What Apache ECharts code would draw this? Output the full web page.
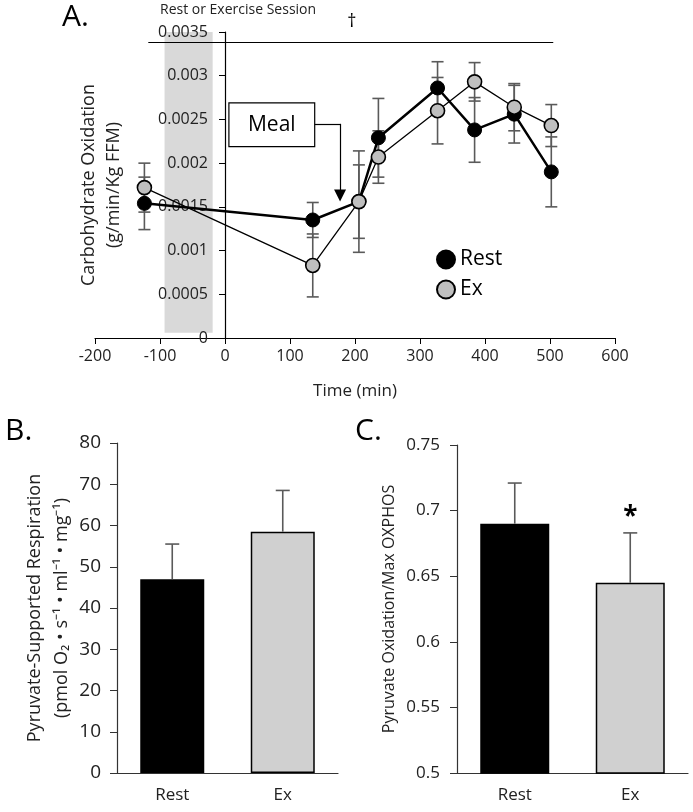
<!DOCTYPE html>
<html>
<head>
<meta charset="utf-8">
<script src="https://cdn.jsdelivr.net/npm/echarts@6/dist/echarts.min.js"></script>
<style>
  html, body { margin: 0; padding: 0; background: #fff; }
  #main { width: 693px; height: 812px; }
</style>
</head>
<body>
<div id="main"></div>
<script>
// panel A: carbohydrate oxidation over time
var timeMin = [-124, 135, 206, 236, 327, 384, 445, 502];
var restCHO = [0.00154, 0.00135, 0.00156, 0.00229, 0.00286, 0.00238, 0.00256, 0.0019];
var restErr = [0.0003, 0.0002, 0.00042, 0.00045, 0.0003, 0.00037, 0.00033, 0.0004];
var exCHO = [0.00172, 0.00083, 0.00156, 0.00207, 0.0026, 0.00293, 0.00264, 0.00243];
var exErr = [0.00028, 0.00036, 0.00058, 0.0003, 0.00038, 0.00022, 0.00027, 0.00024];

// panel B / C: bars
var groups = ['Rest', 'Ex'];
var respVals = [47, 58.5];
var respErr = [8.5, 10];
var ratioVals = [0.69, 0.645];
var ratioErr = [0.031, 0.038];

var FONT = 'Open Sans';
var TXT = '#222';
var ERRC = '#5a5a5a';

var myChart = echarts.init(document.getElementById('main'));

function pairs(xs, ys, es) {
    return xs.map(function (x, i) { return [x, ys[i], es[i]]; });
}

function errBarsA(params, api) {
    var x = api.value(0), y = api.value(1), e = api.value(2);
    var top = api.coord([x, y + e]);
    var bot = api.coord([x, y - e]);
    var st = { stroke: ERRC, lineWidth: 1.6 };
    var hw = 6;
    return {
        type: 'group',
        children: [
            { type: 'line', shape: { x1: top[0], y1: top[1], x2: bot[0], y2: bot[1] }, style: st },
            { type: 'line', shape: { x1: top[0] - hw, y1: top[1], x2: top[0] + hw, y2: top[1] }, style: st },
            { type: 'line', shape: { x1: bot[0] - hw, y1: bot[1], x2: bot[0] + hw, y2: bot[1] }, style: st }
        ]
    };
}

function errBarsUp(params, api) {
    var i = api.value(0), y = api.value(1), e = api.value(2);
    var base = api.coord([i, y]);
    var top = api.coord([i, y + e]);
    var st = { stroke: ERRC, lineWidth: 1.6 };
    var hw = 7;
    return {
        type: 'group',
        children: [
            { type: 'line', shape: { x1: base[0], y1: base[1], x2: top[0], y2: top[1] }, style: st },
            { type: 'line', shape: { x1: top[0] - hw, y1: top[1], x2: top[0] + hw, y2: top[1] }, style: st }
        ]
    };
}

var catAxisBase = {
    type: 'category',
    data: groups,
    axisLine: { lineStyle: { color: '#333', width: 1.2 } },
    axisTick: { length: 6, lineStyle: { color: '#333' } },
    axisLabel: { color: TXT, fontSize: 17, fontFamily: FONT, margin: 14 }
};

option = {
    backgroundColor: '#fff',
    animation: false,
    textStyle: { fontFamily: FONT },
    graphic: [
        { type: 'text', left: 62, top: 2, style: { text: 'A.', fontSize: 30, fontFamily: FONT, fill: '#000' } },
        { type: 'text', left: 5, top: 416, style: { text: 'B.', fontSize: 30, fontFamily: FONT, fill: '#000' } },
        { type: 'text', left: 355, top: 416, style: { text: 'C.', fontSize: 30, fontFamily: FONT, fill: '#000' } },
        { type: 'text', left: 160, top: 3, style: { text: 'Rest or Exercise Session', fontSize: 14, fontFamily: FONT, fill: '#222' } }
    ],
    legend: {
        data: ['Rest', 'Ex'],
        orient: 'vertical',
        left: 431,
        top: 244,
        icon: 'circle',
        itemWidth: 18,
        itemHeight: 18,
        itemGap: 9,
        textStyle: { fontSize: 21, fontFamily: FONT, color: '#000' }
    },
    grid: [
        { left: 95, top: 32, width: 520, height: 306, outerBoundsMode: 'none', containLabel: false },
        { left: 117, top: 443, width: 221, height: 330, outerBoundsMode: 'none', containLabel: false },
        { left: 457, top: 445, width: 231, height: 328, outerBoundsMode: 'none', containLabel: false }
    ],
    xAxis: [{
        gridIndex: 0,
        type: 'value',
        min: -200,
        max: 600,
        interval: 100,
        z: 3,
        name: 'Time (min)',
        nameLocation: 'middle',
        nameGap: 45,
        nameTextStyle: { fontSize: 17, color: TXT, fontFamily: FONT },
        splitLine: { show: false },
        axisLine: { onZero: false, lineStyle: { color: '#000', width: 1.2 } },
        axisTick: { length: 6, lineStyle: { color: '#000' } },
        axisLabel: { color: TXT, fontSize: 16, fontFamily: FONT, margin: 10 }
    }, Object.assign({ gridIndex: 1 }, catAxisBase), Object.assign({ gridIndex: 2 }, catAxisBase)],
    yAxis: [{
        gridIndex: 0,
        type: 'value',
        min: 0,
        max: 0.0035,
        interval: 0.0005,
        z: 3,
        // shift the axis from the grid edge (-200) to time 0
        offset: -130,
        name: 'Carbohydrate Oxidation\n(g/min/Kg FFM)',
        nameLocation: 'middle',
        nameGap: 99,
        nameTextStyle: { fontSize: 18, color: TXT, fontFamily: FONT, lineHeight: 25 },
        splitLine: { show: false },
        axisLine: { show: true, onZero: false, lineStyle: { color: '#000', width: 1.2 } },
        axisTick: { show: true, length: 6, lineStyle: { color: '#000' } },
        axisLabel: {
            color: TXT, fontSize: 16, fontFamily: FONT, margin: 17,
            formatter: function (v) { return v === 0 ? '0' : String(+v.toFixed(4)); }
        }
    }, {
        gridIndex: 1,
        type: 'value',
        min: 0,
        max: 80,
        interval: 10,
        name: 'Pyruvate-Supported Respiration\n(pmol O\u2082 \u2022 s\u207B\u00B9 \u2022 ml\u207B\u00B9 \u2022 mg\u207B\u00B9)',
        nameLocation: 'middle',
        nameGap: 40,
        nameTextStyle: { fontSize: 18, color: TXT, fontFamily: FONT, lineHeight: 27 },
        splitLine: { show: false },
        axisLine: { show: true, lineStyle: { color: '#333', width: 1.2 } },
        axisTick: { show: true, length: 7, lineStyle: { color: '#333' } },
        axisLabel: { color: TXT, fontSize: 19, fontFamily: FONT, margin: 16 }
    }, {
        gridIndex: 2,
        type: 'value',
        min: 0.5,
        max: 0.75,
        interval: 0.05,
        name: 'Pyruvate Oxidation/Max OXPHOS',
        nameLocation: 'middle',
        nameGap: 60,
        nameTextStyle: { fontSize: 16, color: TXT, fontFamily: FONT },
        splitLine: { show: false },
        axisLine: { show: true, lineStyle: { color: '#333', width: 1.2 } },
        axisTick: { show: true, length: 7, lineStyle: { color: '#333' } },
        axisLabel: {
            color: TXT, fontSize: 17, fontFamily: FONT, margin: 17,
            formatter: function (v) { return String(+v.toFixed(2)); }
        }
    }],
    series: [{
        // shaded rest / exercise session
        name: 'band',
        type: 'line',
        xAxisIndex: 0,
        yAxisIndex: 0,
        data: [],
        clip: false,
        silent: true,
        z: 1,
        markArea: {
            silent: true,
            itemStyle: { color: '#d9d9d9' },
            data: [[{ coord: [-93, 0.00006] }, { coord: [-19, 0.00358] }]]
        }
    }, {
        // annotations: bar line, meal box and arrow
        name: 'notes',
        type: 'line',
        xAxisIndex: 0,
        yAxisIndex: 0,
        data: [],
        clip: false,
        silent: true,
        z: 3,
        markArea: {
            silent: true,
            data: [[{
                coord: [6, 0.00219],
                itemStyle: { color: '#fff', borderColor: '#000', borderWidth: 1.2 },
                label: { show: true, position: 'inside', formatter: 'Meal', fontSize: 21, color: '#000', fontFamily: FONT }
            }, { coord: [138, 0.00269] }]]
        },
        markLine: {
            silent: true,
            symbol: 'none',
            label: { show: false },
            lineStyle: { color: '#000', width: 1.2, type: 'solid' },
            data: [
                [{ coord: [-118, 0.00338] }, { coord: [505, 0.00338] }],
                [{ coord: [138, 0.00245] }, { coord: [177, 0.00245] }],
                [{ coord: [177, 0.00245] }, { coord: [177, 0.00163], symbol: 'triangle', symbolSize: [12, 12], symbolRotate: 180 }]
            ]
        }
    }, {
        name: 'restErr',
        type: 'custom',
        xAxisIndex: 0,
        yAxisIndex: 0,
        renderItem: errBarsA,
        data: pairs(timeMin, restCHO, restErr),
        z: 2,
        silent: true
    }, {
        name: 'exErr',
        type: 'custom',
        xAxisIndex: 0,
        yAxisIndex: 0,
        renderItem: errBarsA,
        data: pairs(timeMin, exCHO, exErr),
        z: 2,
        silent: true
    }, {
        name: 'Rest',
        type: 'line',
        xAxisIndex: 0,
        yAxisIndex: 0,
        data: timeMin.map(function (x, i) { return [x, restCHO[i]]; }),
        symbol: 'circle',
        symbolSize: 14,
        showSymbol: true,
        lineStyle: { color: '#000', width: 2.5 },
        itemStyle: { color: '#000', borderColor: '#000', borderWidth: 1 },
        z: 4
    }, {
        name: 'Ex',
        type: 'line',
        xAxisIndex: 0,
        yAxisIndex: 0,
        data: timeMin.map(function (x, i) { return [x, exCHO[i]]; }),
        symbol: 'circle',
        symbolSize: 14,
        showSymbol: true,
        lineStyle: { color: '#000', width: 1.3 },
        itemStyle: { color: '#bfbfbf', borderColor: '#000', borderWidth: 1.6 },
        z: 5
    }, {
        name: 'resp',
        type: 'bar',
        xAxisIndex: 1,
        yAxisIndex: 1,
        barWidth: 64,
        data: respVals.map(function (v, i) {
            return { value: v, itemStyle: { color: i === 0 ? '#000' : '#d0d0d0', borderColor: '#000', borderWidth: 1.5 } };
        }),
        z: 2
    }, {
        name: 'respErr',
        type: 'custom',
        xAxisIndex: 1,
        yAxisIndex: 1,
        renderItem: errBarsUp,
        data: respVals.map(function (v, i) { return [i, v, respErr[i]]; }),
        z: 3
    }, {
        name: 'ratio',
        type: 'bar',
        xAxisIndex: 2,
        yAxisIndex: 2,
        barWidth: 69,
        data: ratioVals.map(function (v, i) {
            return { value: v, itemStyle: { color: i === 0 ? '#000' : '#d0d0d0', borderColor: '#000', borderWidth: 1.5 } };
        }),
        markPoint: {
            silent: true,
            symbol: 'circle',
            symbolSize: 0,
            data: [{ coord: ['Ex', 0.695], label: { show: true, position: 'inside', formatter: '*', fontSize: 26, fontWeight: 'bold', color: '#000', fontFamily: FONT } }]
        },
        z: 2
    }, {
        name: 'ratioErr',
        type: 'custom',
        xAxisIndex: 2,
        yAxisIndex: 2,
        renderItem: errBarsUp,
        data: ratioVals.map(function (v, i) { return [i, v, ratioErr[i]]; }),
        z: 3
    }]
};

myChart.setOption(option);

// dagger above the bracket line sits outside the axis range, so place it from data coords
var dag = myChart.convertToPixel({ gridIndex: 0 }, [195, 0.00362]);
myChart.setOption({
    graphic: option.graphic.concat([{
        type: 'text', x: dag[0], y: dag[1],
        style: { text: '\u2020', fontSize: 18, fontFamily: FONT, fill: '#000', align: 'center', verticalAlign: 'middle' }
    }])
});
</script>
</body>
</html>
